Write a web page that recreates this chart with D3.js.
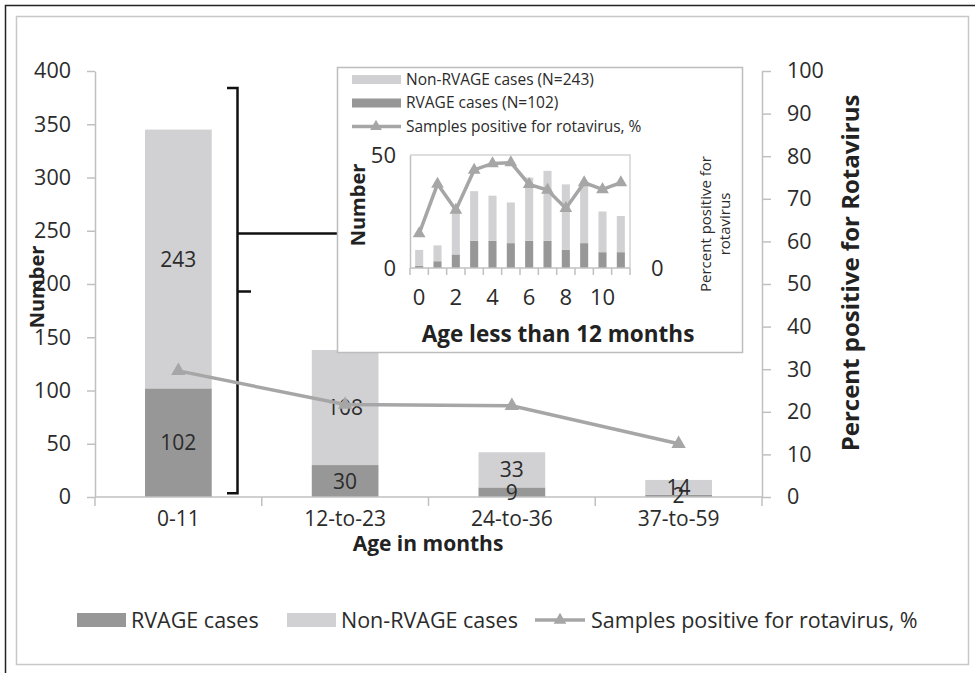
<!DOCTYPE html>
<html>
<head>
<meta charset="utf-8">
<script src="https://cdn.jsdelivr.net/npm/d3@7"></script>
<style>
  body { margin: 0; background: #fff; }
  svg { display: block; font-family: "Open Sans", sans-serif; }
</style>
</head>
<body>
<svg class="viz"></svg>
<script>
var width = 975,
  height = 673;

// main chart data
var age_groups = ["0-11", "12-to-23", "24-to-36", "37-to-59"];
var rvage_cases = [102, 30, 9, 2];
var non_rvage_cases = [243, 108, 33, 14];
var percent_positive = [29.6, 21.7, 21.4, 12.5];
var y_ticks = [0, 50, 100, 150, 200, 250, 300, 350, 400];
var y2_ticks = [0, 10, 20, 30, 40, 50, 60, 70, 80, 90, 100];

// inset data (age less than 12 months)
var months = [0, 1, 2, 3, 4, 5, 6, 7, 8, 9, 10, 11];
var month_rvage = [1, 3, 6, 12, 12, 11, 12, 12, 8, 11, 7, 7];
var month_non_rvage = [7, 7, 20, 22, 20, 18, 28, 31, 29, 27, 18, 16];
var month_percent = [12.2, 29.7, 20.5, 34.7, 37.0, 37.3, 29.6, 27.6, 21.1, 30.2, 27.8, 30.2];
var month_labels = [0, 2, 4, 6, 8, 10];

var dark = "#979797",
  light = "#d1d1d3",
  line_color = "#a6a6a6",
  axis_color = "#c0c0c0",
  text_color = "#2b2b2b";

var svg = d3.select(".viz")
  .attr("width", width)
  .attr("height", height);

// frames
svg.append("path")
  .attr("d", "M5.5,673V5.5H975")
  .attr("fill", "none")
  .attr("stroke", "#222")
  .attr("stroke-width", 1.5);
svg.append("rect")
  .attr("x", 16.5).attr("y", 16.5)
  .attr("width", 952).attr("height", 648)
  .attr("fill", "none")
  .attr("stroke", "#c8c8c8")
  .attr("stroke-width", 1.5);

// scales
var x = d3.scaleBand().domain(age_groups).range([95, 762])
  .paddingInner(0.6).paddingOuter(0.3);
var y = d3.scaleLinear().domain([0, 400]).range([497, 71]);
var y2 = d3.scaleLinear().domain([0, 100]).range([497, 71]);

function style_axis(g, size) {
  g.selectAll(".domain").attr("stroke", axis_color).attr("stroke-width", 1.5);
  g.selectAll(".tick line").attr("stroke", axis_color).attr("stroke-width", 1.5);
  g.selectAll("text").attr("fill", text_color).style("font-size", size + "px")
    .style("font-family", '"Open Sans", sans-serif');
}

// left axis
var gy = svg.append("g")
  .attr("transform", "translate(95,0)")
  .call(d3.axisLeft(y).tickValues(y_ticks).tickSize(8).tickSizeOuter(0).tickPadding(16));
style_axis(gy, 21.5);

// right axis
var gy2 = svg.append("g")
  .attr("transform", "translate(762,0)")
  .call(d3.axisRight(y2).tickValues(y2_ticks).tickSize(9).tickSizeOuter(0).tickPadding(16));
style_axis(gy2, 21.5);

// stacked bars
var stacked = age_groups.map(function(d, i) {
  return { group: d, rv: rvage_cases[i], non: non_rvage_cases[i] };
});
svg.selectAll("rect.rv").data(stacked).enter().append("rect")
  .attr("class", "rv")
  .attr("x", d => x(d.group))
  .attr("width", x.bandwidth())
  .attr("y", d => y(d.rv))
  .attr("height", d => y(0) - y(d.rv))
  .attr("fill", dark);
svg.selectAll("rect.non").data(stacked).enter().append("rect")
  .attr("class", "non")
  .attr("x", d => x(d.group))
  .attr("width", x.bandwidth())
  .attr("y", d => y(d.rv + d.non))
  .attr("height", d => y(d.rv) - y(d.rv + d.non))
  .attr("fill", light);

// bottom axis
var gx = svg.append("g")
  .attr("transform", "translate(0,497)")
  .call(d3.axisBottom(x).tickSize(0).tickPadding(14));
style_axis(gx, 21);
gx.selectAll(".domain").attr("d", "M95,0H762");
gx.selectAll("line.edge").data(d3.range(age_groups.length + 1)).enter().append("line")
  .attr("class", "edge")
  .attr("x1", i => x.range()[0] + i * x.step()).attr("x2", i => x.range()[0] + i * x.step())
  .attr("y1", 0).attr("y2", 9)
  .attr("stroke", axis_color).attr("stroke-width", 1.5);

// brace and connector
var brace_x = 237.5;
svg.append("path")
  .attr("d", "M227," + y(384) + "H" + brace_x + "V" + y(3.5) + "H227"
    + "M" + brace_x + "," + y(193) + "H251"
    + "M" + brace_x + "," + y(247.5) + "H337")
  .attr("fill", "none")
  .attr("stroke", "#111")
  .attr("stroke-width", 2.5);

// segment labels
svg.selectAll("text.rvlab").data(stacked).enter().append("text")
  .attr("x", d => x(d.group) + x.bandwidth() / 2)
  .attr("y", d => y(d.rv / 2))
  .attr("dy", "0.36em")
  .attr("text-anchor", "middle")
  .attr("fill", text_color)
  .style("font-size", "21px")
  .text(d => d.rv);
svg.selectAll("text.nonlab").data(stacked).enter().append("text")
  .attr("x", d => x(d.group) + x.bandwidth() / 2)
  .attr("y", d => y(d.rv + d.non / 2))
  .attr("dy", "0.36em")
  .attr("text-anchor", "middle")
  .attr("fill", text_color)
  .style("font-size", "21px")
  .text(d => d.non);

// percent line
var line = d3.line()
  .x((d, i) => x(age_groups[i]) + x.bandwidth() / 2)
  .y(d => y2(d));
svg.append("path")
  .datum(percent_positive)
  .attr("d", line)
  .attr("fill", "none")
  .attr("stroke", line_color)
  .attr("stroke-width", 3.5);
svg.selectAll("path.tri").data(percent_positive).enter().append("path")
  .attr("class", "tri")
  .attr("d", d3.symbol(d3.symbolTriangle).size(90))
  .attr("transform", (d, i) => "translate(" + (x(age_groups[i]) + x.bandwidth() / 2) + "," + y2(d) + ")")
  .attr("fill", line_color);

// axis titles
svg.append("text")
  .attr("transform", "translate(37,287) rotate(-90)")
  .attr("text-anchor", "middle")
  .attr("dy", "0.35em")
  .attr("fill", "#222")
  .style("font-size", "20px").style("font-weight", "bold")
  .text("Number");
svg.append("text")
  .attr("transform", "translate(851,273) rotate(-90)")
  .attr("text-anchor", "middle")
  .attr("dy", "0.35em")
  .attr("fill", "#222")
  .style("font-size", "24px").style("font-weight", "bold")
  .text("Percent positive for Rotavirus");
svg.append("text")
  .attr("x", 428).attr("y", 544)
  .attr("text-anchor", "middle")
  .attr("dy", "0.35em")
  .attr("fill", "#222")
  .style("font-size", "21px").style("font-weight", "bold")
  .text("Age in months");

// legend
var legend = svg.append("g").attr("transform", "translate(0,620)");
legend.append("rect").attr("x", 77).attr("y", -7).attr("width", 49).attr("height", 14).attr("fill", dark);
legend.append("text").attr("x", 131).attr("dy", "0.35em").attr("fill", text_color)
  .style("font-size", "21.5px").text("RVAGE cases");
legend.append("rect").attr("x", 287).attr("y", -7).attr("width", 49).attr("height", 14).attr("fill", light);
legend.append("text").attr("x", 341).attr("dy", "0.35em").attr("fill", text_color)
  .style("font-size", "21.5px").text("Non-RVAGE cases");
legend.append("line").attr("x1", 535).attr("x2", 585)
  .attr("stroke", line_color).attr("stroke-width", 3.5);
legend.append("path").attr("d", d3.symbol(d3.symbolTriangle).size(70))
  .attr("transform", "translate(560,0)").attr("fill", line_color);
legend.append("text").attr("x", 591).attr("dy", "0.35em").attr("fill", text_color)
  .style("font-size", "21.5px").text("Samples positive for rotavirus, %");

// ---- inset ----
var inset = svg.append("g");
inset.append("rect")
  .attr("x", 337.5).attr("y", 67.5)
  .attr("width", 405).attr("height", 285)
  .attr("fill", "#fff")
  .attr("stroke", "#bdbdbd")
  .attr("stroke-width", 1.5);

var ix = d3.scaleBand().domain(months).range([410, 630])
  .paddingInner(0.56).paddingOuter(0.28);
var iy = d3.scaleLinear().domain([0, 50]).range([268, 155]);
var iy2 = d3.scaleLinear().domain([0, 40]).range([268, 155]);

// plot area border
inset.append("path")
  .attr("d", "M" + ix.range()[0] + "," + iy(50) + "H" + ix.range()[1] + "V" + iy(0))
  .attr("fill", "none").attr("stroke", "#d4d4d4").attr("stroke-width", 1.5);

var month_data = months.map(function(m, i) {
  return { m: m, rv: month_rvage[i], non: month_non_rvage[i], pct: month_percent[i] };
});
inset.selectAll("rect.irv").data(month_data).enter().append("rect")
  .attr("x", d => ix(d.m)).attr("width", ix.bandwidth())
  .attr("y", d => iy(d.rv)).attr("height", d => iy(0) - iy(d.rv))
  .attr("fill", dark);
inset.selectAll("rect.inon").data(month_data).enter().append("rect")
  .attr("x", d => ix(d.m)).attr("width", ix.bandwidth())
  .attr("y", d => iy(d.rv + d.non)).attr("height", d => iy(d.rv) - iy(d.rv + d.non))
  .attr("fill", light);

var giy = inset.append("g")
  .attr("transform", "translate(410,0)")
  .call(d3.axisLeft(iy).tickValues([0, 50]).tickSize(0).tickPadding(14));
style_axis(giy, 22);
var giy2 = inset.append("g")
  .attr("transform", "translate(630,0)")
  .call(d3.axisRight(iy2).tickValues([0]).tickSize(0).tickPadding(21));
style_axis(giy2, 22);
giy2.select(".domain").remove();

var gix = inset.append("g")
  .attr("transform", "translate(0,268)")
  .call(d3.axisBottom(ix).tickValues(month_labels).tickSize(0).tickPadding(21));
style_axis(gix, 22);
gix.selectAll(".domain").attr("d", "M410,0H630");
gix.selectAll("line.edge").data(d3.range(months.length + 1)).enter().append("line")
  .attr("class", "edge")
  .attr("x1", i => ix.range()[0] + i * ix.step()).attr("x2", i => ix.range()[0] + i * ix.step())
  .attr("y1", 0).attr("y2", 7)
  .attr("stroke", axis_color).attr("stroke-width", 1.5);

var iline = d3.line()
  .x(d => ix(d.m) + ix.bandwidth() / 2)
  .y(d => iy2(d.pct));
inset.append("path")
  .datum(month_data)
  .attr("d", iline)
  .attr("fill", "none")
  .attr("stroke", line_color)
  .attr("stroke-width", 3.5);
inset.selectAll("path.itri").data(month_data).enter().append("path")
  .attr("d", d3.symbol(d3.symbolTriangle).size(70))
  .attr("transform", d => "translate(" + (ix(d.m) + ix.bandwidth() / 2) + "," + iy2(d.pct) + ")")
  .attr("fill", line_color);

// inset titles
inset.append("text")
  .attr("transform", "translate(358,205) rotate(-90)")
  .attr("text-anchor", "middle").attr("dy", "0.35em")
  .attr("fill", "#222")
  .style("font-size", "20px").style("font-weight", "bold")
  .text("Number");
inset.append("text")
  .attr("x", 558).attr("y", 334)
  .attr("text-anchor", "middle").attr("dy", "0.35em")
  .attr("fill", "#222")
  .style("font-size", "22.5px").style("font-weight", "bold")
  .text("Age less than 12 months");
inset.append("text")
  .attr("transform", "translate(706,224) rotate(-90)")
  .attr("text-anchor", "middle").attr("dy", "0.35em")
  .attr("fill", text_color)
  .style("font-size", "15px")
  .text("Percent positive for");
inset.append("text")
  .attr("transform", "translate(725,224) rotate(-90)")
  .attr("text-anchor", "middle").attr("dy", "0.35em")
  .attr("fill", text_color)
  .style("font-size", "15px")
  .text("rotavirus");

// inset legend
var ileg = inset.append("g");
var ileg_rows = [
  { label: "Non-RVAGE cases (N=243)", type: "bar", color: light },
  { label: "RVAGE cases (N=102)", type: "bar", color: dark },
  { label: "Samples positive for rotavirus, %", type: "line", color: line_color }
];
ileg_rows.forEach(function(r, i) {
  var cy = 79.5 + i * 23.5;
  if (r.type == "bar") {
    ileg.append("rect").attr("x", 352).attr("y", cy - 4.5).attr("width", 49).attr("height", 9).attr("fill", r.color);
  } else {
    ileg.append("line").attr("x1", 352).attr("x2", 401).attr("y1", cy).attr("y2", cy)
      .attr("stroke", r.color).attr("stroke-width", 3.5);
    ileg.append("path").attr("d", d3.symbol(d3.symbolTriangle).size(60))
      .attr("transform", "translate(376," + cy + ")").attr("fill", r.color);
  }
  ileg.append("text").attr("x", 406).attr("y", cy).attr("dy", "0.35em")
    .attr("fill", text_color).style("font-size", "15.5px").text(r.label);
});
</script>
</body>
</html>
